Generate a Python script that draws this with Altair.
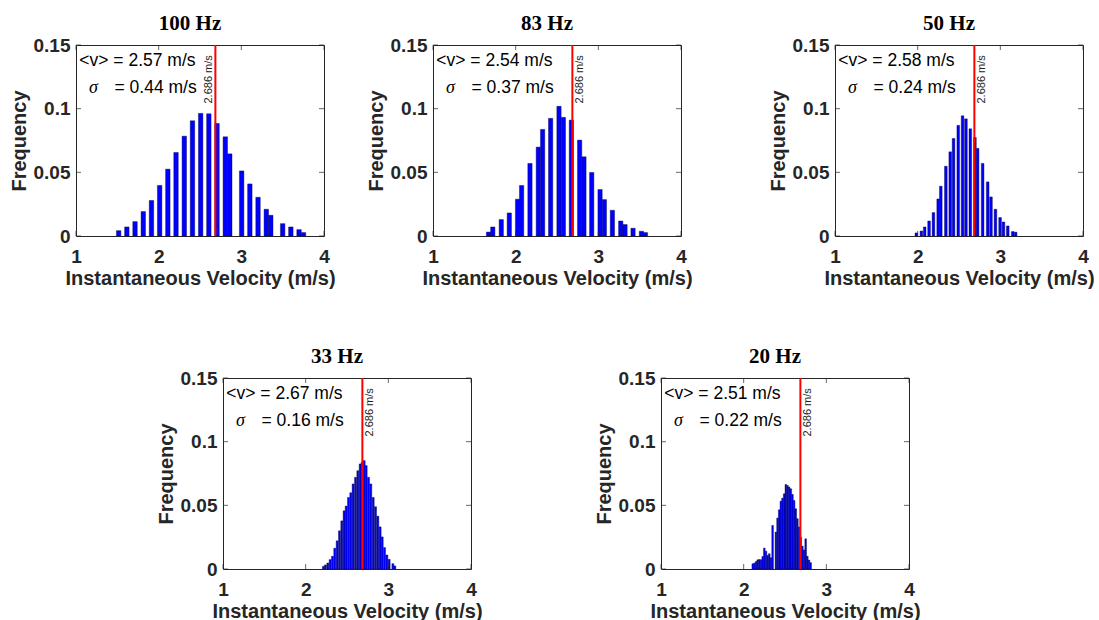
import altair as alt
import pandas as pd

# ---------------- data ----------------
TITLES = ["100 Hz", "83 Hz", "50 Hz", "33 Hz", "20 Hz"]
MEANS = ["2.57", "2.54", "2.58", "2.67", "2.51"]
SIGMAS = ["0.44", "0.37", "0.24", "0.16", "0.22"]
REF_V = 2.686
REF_LABEL = "2.686 m/s"
X_TICKS = [1, 2, 3, 4]
Y_TICKS = [0, 0.05, 0.1, 0.15]

# bar centres (m/s) and frequencies, one pair of arrays per panel
P1_V = [1.516, 1.615, 1.714, 1.814, 1.913, 2.012, 2.111, 2.210, 2.310, 2.409, 2.508, 2.607,
        2.706, 2.806, 2.860, 3.004, 3.103, 3.202, 3.302, 3.356, 3.500, 3.599, 3.698, 3.752]
P1_F = [0.0042, 0.0071, 0.0113, 0.0192, 0.0279, 0.0397, 0.0525, 0.0656, 0.0784, 0.0905, 0.0963, 0.0960,
        0.0884, 0.0779, 0.0645, 0.0511, 0.0409, 0.0304, 0.0210, 0.0163, 0.0097, 0.0071, 0.0050, 0.0027]

P2_V = [1.672, 1.723, 1.826, 1.923, 2.023, 2.072, 2.173, 2.274, 2.326, 2.423, 2.524, 2.577,
        2.674, 2.774, 2.826, 2.920, 3.021, 3.073, 3.170, 3.271, 3.323, 3.420, 3.521, 3.570]
P2_F = [0.0031, 0.0071, 0.0129, 0.0181, 0.0289, 0.0397, 0.0570, 0.0698, 0.0837, 0.0924, 0.1018, 0.0932,
        0.0910, 0.0753, 0.0622, 0.0499, 0.0365, 0.0286, 0.0202, 0.0118, 0.0090, 0.0061, 0.0037, 0.0027]

P3_V = [1.984, 2.045, 2.085, 2.138, 2.191, 2.248, 2.280, 2.341, 2.394, 2.434, 2.491, 2.543, 2.584,
        2.637, 2.693, 2.725, 2.786, 2.847, 2.887, 2.941, 2.997, 3.038, 3.090, 3.150, 3.185]
P3_F = [0.0024, 0.0039, 0.0071, 0.0118, 0.0184, 0.0291, 0.0391, 0.0548, 0.0661, 0.0766, 0.0869, 0.0944, 0.0920,
        0.0842, 0.0774, 0.0688, 0.0570, 0.0425, 0.0307, 0.0210, 0.0145, 0.0110, 0.0079, 0.0035, 0.0030]

P4_V = [2.215, 2.239, 2.268, 2.296, 2.324, 2.352, 2.381, 2.409, 2.437, 2.465, 2.490, 2.518, 2.546, 2.574,
        2.603, 2.631, 2.659, 2.683, 2.708, 2.732, 2.760, 2.788, 2.817, 2.845, 2.873, 2.901, 2.926, 2.954,
        2.982, 3.010, 3.055, 3.079]
P4_F = [0.0021, 0.0032, 0.0047, 0.0074, 0.0100, 0.0163, 0.0221, 0.0300, 0.0378, 0.0457, 0.0494, 0.0562,
        0.0599, 0.0668, 0.0720, 0.0772, 0.0825, 0.0838, 0.0851, 0.0812, 0.0720, 0.0668, 0.0562, 0.0489,
        0.0415, 0.0331, 0.0252, 0.0168, 0.0110, 0.0076, 0.0042, 0.0024]

P5_V = [2.11, 2.13, 2.15, 2.17, 2.19, 2.21, 2.23, 2.25, 2.27, 2.29, 2.31, 2.33, 2.35, 2.39, 2.41, 2.43,
        2.45, 2.47, 2.49, 2.51, 2.53, 2.55, 2.57, 2.59, 2.61, 2.63, 2.65, 2.67, 2.69, 2.71, 2.73, 2.75,
        2.77, 2.79, 2.81]
P5_F = [0.0041, 0.0046, 0.0059, 0.0072, 0.0075, 0.0072, 0.0098, 0.0164, 0.0140, 0.0106, 0.0120, 0.0088,
        0.0342, 0.0290, 0.0400, 0.0465, 0.0533, 0.0556, 0.0590, 0.0664, 0.0656, 0.0643, 0.0630, 0.0586,
        0.0538, 0.0473, 0.0395, 0.0330, 0.0250, 0.0180, 0.0150, 0.0237, 0.0100, 0.0070, 0.0050]

PANEL_V = [P1_V, P2_V, P3_V, P4_V, P5_V]
PANEL_F = [P1_F, P2_F, P3_F, P4_F, P5_F]
BAR_W = [0.054, 0.052, 0.032, 0.024, 0.020]
LABEL_SIDE = ["left", "right", "right", "right", "right"]

# ---------------- styling ----------------
W, H = 248, 191
AX = "#262626"
SANS = "Liberation Sans"
SERIF = "Liberation Serif"

XS = alt.Scale(domain=[1, 4], nice=False, zero=False)
YS = alt.Scale(domain=[0, 0.15], nice=False, zero=False)
AXX = alt.Axis(values=X_TICKS, format="d", title="Instantaneous Velocity (m/s)",
               labelFlush=False, labelPadding=11, titlePadding=2)
AXY = alt.Axis(values=Y_TICKS, format=".2~f", title="Frequency", labelPadding=6, titlePadding=4)


def X(field):
    return alt.X(field, scale=XS, axis=AXX)


def Y(field):
    return alt.Y(field, scale=YS, axis=AXY)


def panel(i):
    v, f, w = PANEL_V[i], PANEL_F[i], BAR_W[i]
    df = pd.DataFrame({"left": [c - w / 2 for c in v], "right": [c + w / 2 for c in v], "f": f})

    bars = alt.Chart(df).mark_rect(color="#0000ff", stroke="#00003a", strokeWidth=0.4).encode(
        x=X("left:Q"), x2="right:Q", y=Y("f:Q"), y2=alt.Y2(datum=0),
    )

    ref_df = pd.DataFrame({"v": [REF_V], "y": [0.142], "t": [REF_LABEL]})
    rule = alt.Chart(ref_df).mark_rule(color="#ff0000", strokeWidth=2).encode(x=X("v:Q"))
    left = LABEL_SIDE[i] == "left"
    ref_txt = alt.Chart(ref_df).mark_text(
        angle=270, align="right", baseline="bottom" if left else "top",
        dy=-1.5 if left else 1.5, fontSize=11, font=SANS, color="#222222",
    ).encode(x=X("v:Q"), y=Y("y:Q"), text="t:N")

    ann = pd.DataFrame({
        "x": [1.04, 1.157, 1.466],
        "y": [0.1335, 0.1125, 0.1125],
        "t": [f"<v> = {MEANS[i]} m/s", "\u03c3", f"= {SIGMAS[i]} m/s"],
        "k": ["sans", "serif", "sans"],
    })
    ann_sans = alt.Chart(ann).transform_filter(alt.datum.k == "sans").mark_text(
        align="left", baseline="alphabetic", fontSize=17.5, font=SANS, color="black"
    ).encode(x=X("x:Q"), y=Y("y:Q"), text="t:N")
    ann_serif = alt.Chart(ann).transform_filter(alt.datum.k == "serif").mark_text(
        align="left", baseline="alphabetic", fontSize=18, font=SERIF, fontStyle="italic", color="black"
    ).encode(x=X("x:Q"), y=Y("y:Q"), text="t:N")

    tx = pd.DataFrame({"tx": X_TICKS})
    ty = pd.DataFrame({"ty": Y_TICKS})
    tick_style = dict(size=5, thickness=1, color=AX)
    t_bottom = alt.Chart(tx).mark_tick(orient="vertical", yOffset=-2.5, **tick_style).encode(
        x=X("tx:Q"), y=alt.value(H))
    t_top = alt.Chart(tx).mark_tick(orient="vertical", yOffset=2.5, **tick_style).encode(
        x=X("tx:Q"), y=alt.value(0))
    t_left = alt.Chart(ty).mark_tick(orient="horizontal", xOffset=2.5, **tick_style).encode(
        y=Y("ty:Q"), x=alt.value(0))
    t_right = alt.Chart(ty).mark_tick(orient="horizontal", xOffset=-2.5, **tick_style).encode(
        y=Y("ty:Q"), x=alt.value(W))

    return alt.layer(bars, rule, ref_txt, ann_sans, ann_serif, t_bottom, t_top, t_left, t_right).properties(
        width=W, height=H,
        title=alt.TitleParams(text=TITLES[i], font=SERIF, fontSize=21, fontWeight="bold", color="black",
                              anchor="middle", frame="group", dx=-10, offset=-15, baseline="alphabetic"),
    )


def spacer(width):
    return alt.Chart(pd.DataFrame({"a": [0]})).mark_point(opacity=0).encode(
        x=alt.value(0), y=alt.value(0)
    ).properties(width=width, height=10, view=alt.ViewBackground(stroke="transparent"))


top = alt.hconcat(panel(0), spacer(109), panel(1), spacer(154), panel(2), spacing=0, bounds="flush")
bottom = alt.hconcat(spacer(147), panel(3), spacer(190), panel(4), spacing=0, bounds="flush")

# with flush bounds the nested rows count as zero height, so the spacing spans plot height + gap
chart = alt.vconcat(top, bottom, spacing=H + 142, bounds="flush").properties(
    padding={"left": 8, "top": 12, "right": 2, "bottom": 2},
    background="white",
).configure_view(
    stroke=AX, strokeWidth=1
).configure_axis(
    domain=False, ticks=False, grid=False,
    labelFont=SANS, labelFontSize=19, labelFontWeight="bold", labelColor=AX,
    titleFont=SANS, titleFontSize=20, titleFontWeight="bold", titleColor=AX,
)

chart.save("out.html", embed_options={"renderer": "svg", "actions": False})
